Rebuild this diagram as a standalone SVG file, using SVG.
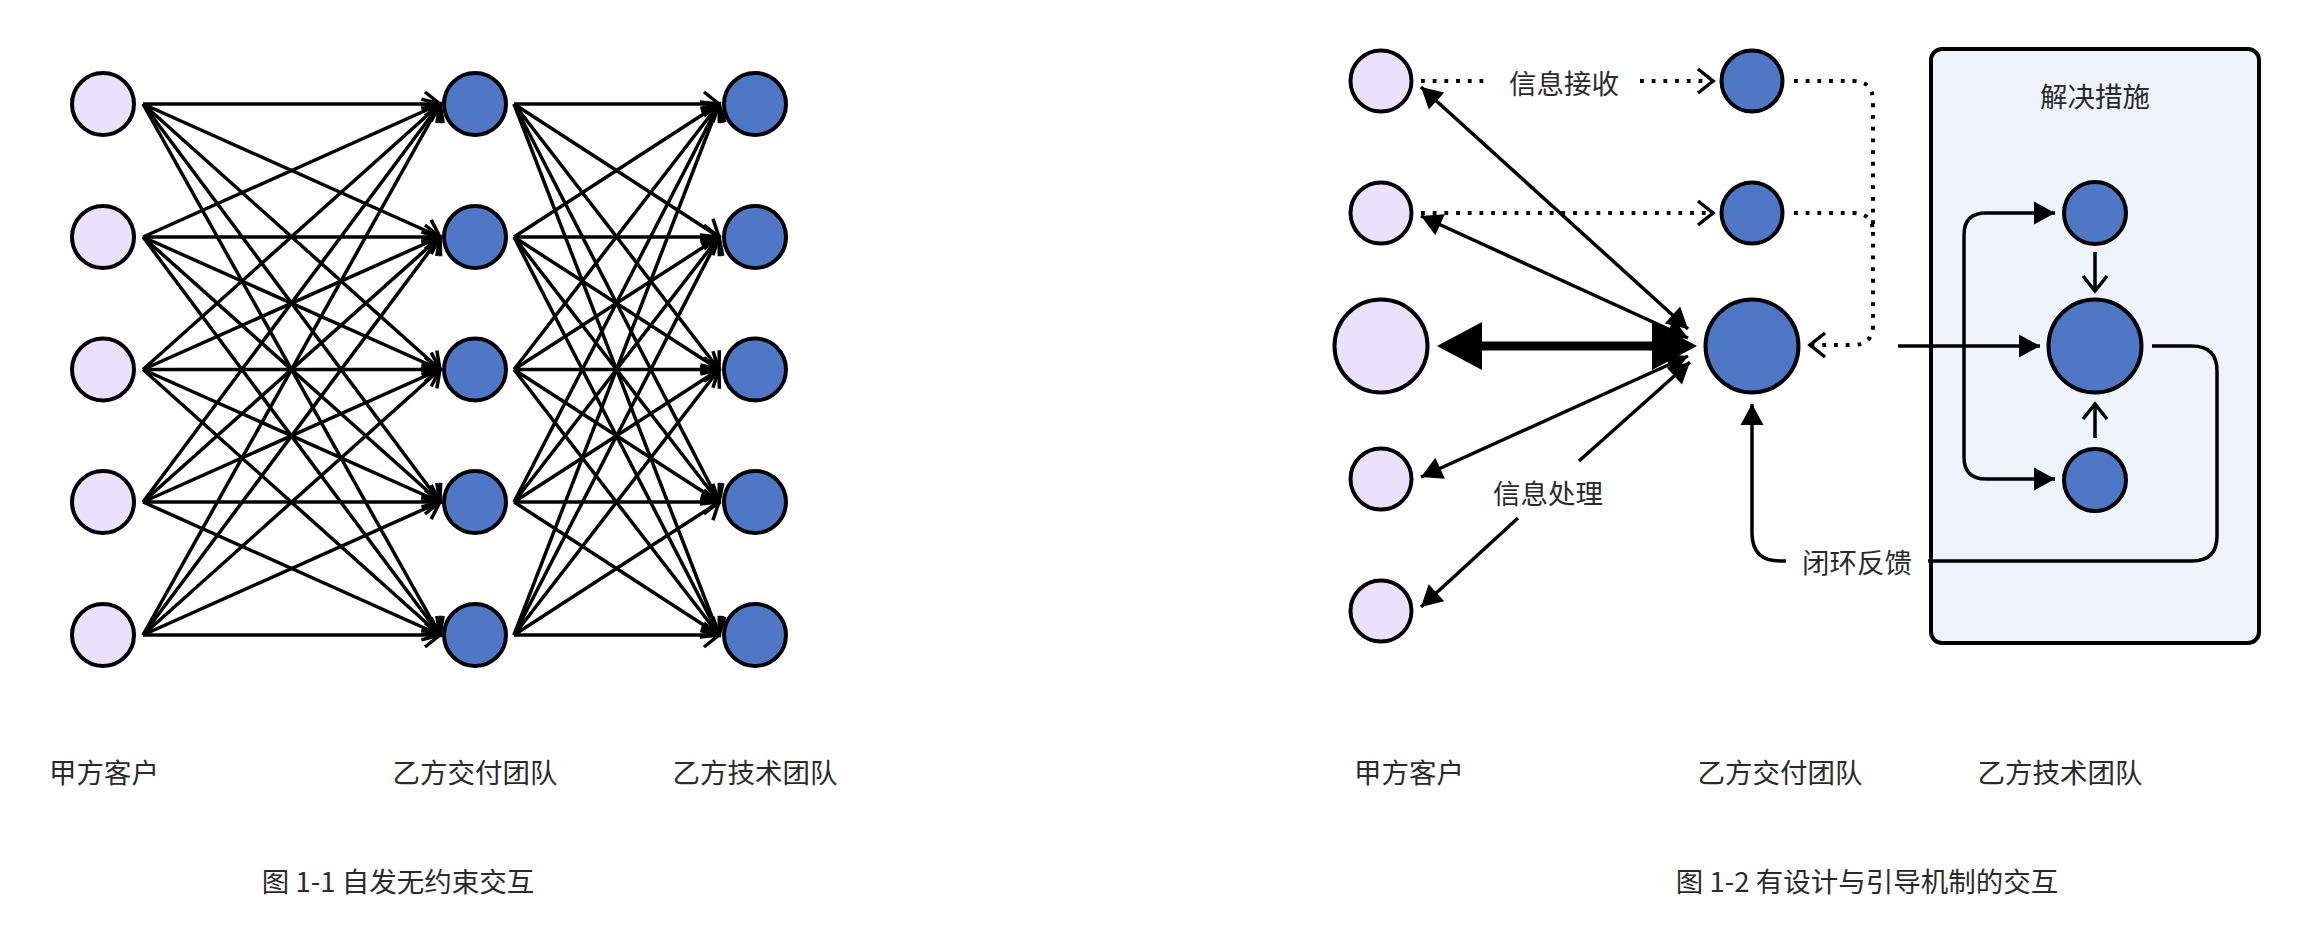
<svg xmlns="http://www.w3.org/2000/svg" width="2308" height="948" viewBox="0 0 2308 948">
<style>
.t{font-family:"Noto Sans CJK SC","Noto Sans",sans-serif;font-size:27.5px;fill:#2a2a2a;text-anchor:middle;dominant-baseline:central}
.cl{fill:#E8E2FC;stroke:#000;stroke-width:4}
.cb{fill:#4E78C5;stroke:#000;stroke-width:4}
.e{stroke:#000;stroke-width:3.5;fill:none}
.eo{stroke:#000;stroke-width:3.5;fill:none;marker-end:url(#open)}
.dot{stroke:#000;stroke-width:4;fill:none;stroke-dasharray:3.8 7.9}
.ef{stroke:#000;stroke-width:3.5;fill:none;marker-end:url(#fill);marker-start:url(#fill)}
</style>
<defs>
<marker id="open" viewBox="-20 -15 24 30" refX="0" refY="0" markerWidth="24" markerHeight="30" markerUnits="userSpaceOnUse" orient="auto"><path d="M-15,-12 L0,0 L-15,12" fill="none" stroke="#000" stroke-width="3.5"/></marker>
<marker id="fill" viewBox="-24 -14 26 28" refX="0" refY="0" markerWidth="26" markerHeight="28" markerUnits="userSpaceOnUse" orient="auto-start-reverse"><path d="M-21,-11.5 L0,0 L-21,11.5 Z" fill="#000"/></marker>
<marker id="fillE" viewBox="-24 -14 26 28" refX="0" refY="0" markerWidth="26" markerHeight="28" markerUnits="userSpaceOnUse" orient="auto"><path d="M-21,-11.5 L0,0 L-21,11.5 Z" fill="#000"/></marker>
</defs>

<!-- Figure 1-1 connectors -->
<g id="connectors-left">
<path class="eo" d="M143,104 L440,104"/>
<path class="eo" d="M143,104 L440,237"/>
<path class="eo" d="M143,104 L440,369.5"/>
<path class="eo" d="M143,104 L440,502"/>
<path class="eo" d="M143,104 L440,635"/>
<path class="eo" d="M143,237 L440,104"/>
<path class="eo" d="M143,237 L440,237"/>
<path class="eo" d="M143,237 L440,369.5"/>
<path class="eo" d="M143,237 L440,502"/>
<path class="eo" d="M143,237 L440,635"/>
<path class="eo" d="M143,369.5 L440,104"/>
<path class="eo" d="M143,369.5 L440,237"/>
<path class="eo" d="M143,369.5 L440,369.5"/>
<path class="eo" d="M143,369.5 L440,502"/>
<path class="eo" d="M143,369.5 L440,635"/>
<path class="eo" d="M143,502 L440,104"/>
<path class="eo" d="M143,502 L440,237"/>
<path class="eo" d="M143,502 L440,369.5"/>
<path class="eo" d="M143,502 L440,502"/>
<path class="eo" d="M143,502 L440,635"/>
<path class="eo" d="M143,635 L440,104"/>
<path class="eo" d="M143,635 L440,237"/>
<path class="eo" d="M143,635 L440,369.5"/>
<path class="eo" d="M143,635 L440,502"/>
<path class="eo" d="M143,635 L440,635"/>
<path class="eo" d="M514,104 L719,104"/>
<path class="eo" d="M514,104 L719,237"/>
<path class="eo" d="M514,104 L719,369.5"/>
<path class="eo" d="M514,104 L719,502"/>
<path class="eo" d="M514,104 L719,635"/>
<path class="eo" d="M514,237 L719,104"/>
<path class="eo" d="M514,237 L719,237"/>
<path class="eo" d="M514,237 L719,369.5"/>
<path class="eo" d="M514,237 L719,502"/>
<path class="eo" d="M514,237 L719,635"/>
<path class="eo" d="M514,369.5 L719,104"/>
<path class="eo" d="M514,369.5 L719,237"/>
<path class="eo" d="M514,369.5 L719,369.5"/>
<path class="eo" d="M514,369.5 L719,502"/>
<path class="eo" d="M514,369.5 L719,635"/>
<path class="eo" d="M514,502 L719,104"/>
<path class="eo" d="M514,502 L719,237"/>
<path class="eo" d="M514,502 L719,369.5"/>
<path class="eo" d="M514,502 L719,502"/>
<path class="eo" d="M514,502 L719,635"/>
<path class="eo" d="M514,635 L719,104"/>
<path class="eo" d="M514,635 L719,237"/>
<path class="eo" d="M514,635 L719,369.5"/>
<path class="eo" d="M514,635 L719,502"/>
<path class="eo" d="M514,635 L719,635"/>
</g>

<!-- Figure 1-1 nodes -->
<g id="L-a1"><circle class="cl" cx="103" cy="104" r="31"/></g>
<g id="L-a2"><circle class="cl" cx="103" cy="237" r="31"/></g>
<g id="L-a3"><circle class="cl" cx="103" cy="369.5" r="31"/></g>
<g id="L-a4"><circle class="cl" cx="103" cy="502" r="31"/></g>
<g id="L-a5"><circle class="cl" cx="103" cy="635" r="31"/></g>
<g id="L-b1"><circle class="cb" cx="475" cy="104" r="31"/></g>
<g id="L-b2"><circle class="cb" cx="475" cy="237" r="31"/></g>
<g id="L-b3"><circle class="cb" cx="475" cy="369.5" r="31"/></g>
<g id="L-b4"><circle class="cb" cx="475" cy="502" r="31"/></g>
<g id="L-b5"><circle class="cb" cx="475" cy="635" r="31"/></g>
<g id="L-c1"><circle class="cb" cx="755" cy="104" r="31"/></g>
<g id="L-c2"><circle class="cb" cx="755" cy="237" r="31"/></g>
<g id="L-c3"><circle class="cb" cx="755" cy="369.5" r="31"/></g>
<g id="L-c4"><circle class="cb" cx="755" cy="502" r="31"/></g>
<g id="L-c5"><circle class="cb" cx="755" cy="635" r="31"/></g>

<g id="L-labels">
<text class="t" x="104" y="771">甲方客户</text>
<text class="t" x="475" y="771">乙方交付团队</text>
<text class="t" x="755" y="771">乙方技术团队</text>
<text class="t" x="398" y="880">图 1-1 自发无约束交互</text>
</g>

<!-- Figure 1-2 -->
<g id="R-box"><rect x="1931" y="49" width="328" height="594" rx="11" fill="#EEF3FD" stroke="#000" stroke-width="4"/>
<text class="t" x="2095" y="95">解决措施</text></g>

<g id="connectors-right">
<path class="dot" d="M1421,81 H1488"/>
<path class="dot" d="M1640,81 H1713" marker-end="url(#open)"/>
<path class="dot" d="M1421,213 H1713" marker-end="url(#open)"/>
<path class="dot" d="M1794,81 H1853 Q1873,81 1873,101 V325 Q1873,345 1853,345 H1810" marker-end="url(#open)"/>
<path class="dot" d="M1794,213 H1853 Q1873,213 1873,233"/>
<path class="ef" d="M1688,329 L1421,87"/>
<path class="ef" d="M1688,338 L1421,216"/>
<path class="ef" d="M1688,356 L1421,477"/>
<path d="M1690,362 L1579,461" class="e" marker-start="url(#fill)"/>
<path d="M1518,518 L1421,607" class="e" marker-end="url(#fillE)"/>
<path d="M1481,346 H1653" stroke="#000" stroke-width="9" fill="none"/>
<path d="M1437,346 L1482,322 L1482,370 Z" fill="#000"/>
<path d="M1697,346 L1652,322 L1652,370 Z" fill="#000"/>
<path class="e" d="M1898,346 H2040" marker-end="url(#fillE)"/>
<path class="e" d="M2055,213 H1986 Q1964,213 1964,235 V457 Q1964,479 1986,479 H2055" marker-start="url(#fill)" marker-end="url(#fill)"/>
<path class="eo" d="M2095,252 V291"/>
<path class="eo" d="M2095,438 V404"/>
<path class="e" d="M2152,346 H2192 Q2217,346 2217,371 V536 Q2217,561 2192,561 H1928"/>
<path class="e" d="M1786,561 H1780 Q1752,561 1752,533 V404" marker-end="url(#fillE)"/>
</g>

<g id="R-a1"><circle class="cl" cx="1381" cy="81" r="30.5"/></g>
<g id="R-a2"><circle class="cl" cx="1381" cy="213" r="30.5"/></g>
<g id="R-a3"><circle class="cl" cx="1381" cy="346" r="46.5"/></g>
<g id="R-a4"><circle class="cl" cx="1381" cy="479" r="30.5"/></g>
<g id="R-a5"><circle class="cl" cx="1381" cy="611" r="30.5"/></g>
<g id="R-b1"><circle class="cb" cx="1752" cy="81" r="30.5"/></g>
<g id="R-b2"><circle class="cb" cx="1752" cy="213" r="30.5"/></g>
<g id="R-b3"><circle class="cb" cx="1752" cy="346" r="46.5"/></g>
<g id="R-c1"><circle class="cb" cx="2095" cy="213" r="31"/></g>
<g id="R-c2"><circle class="cb" cx="2095" cy="346" r="46.5"/></g>
<g id="R-c3"><circle class="cb" cx="2095" cy="480" r="31"/></g>

<g id="R-labels">
<text class="t" x="1564" y="82">信息接收</text>
<text class="t" x="1548" y="492">信息处理</text>
<text class="t" x="1857" y="561">闭环反馈</text>
<text class="t" x="1409" y="771">甲方客户</text>
<text class="t" x="1780" y="771">乙方交付团队</text>
<text class="t" x="2060" y="771">乙方技术团队</text>
<text class="t" x="1867" y="880">图 1-2 有设计与引导机制的交互</text>
</g>
</svg>
